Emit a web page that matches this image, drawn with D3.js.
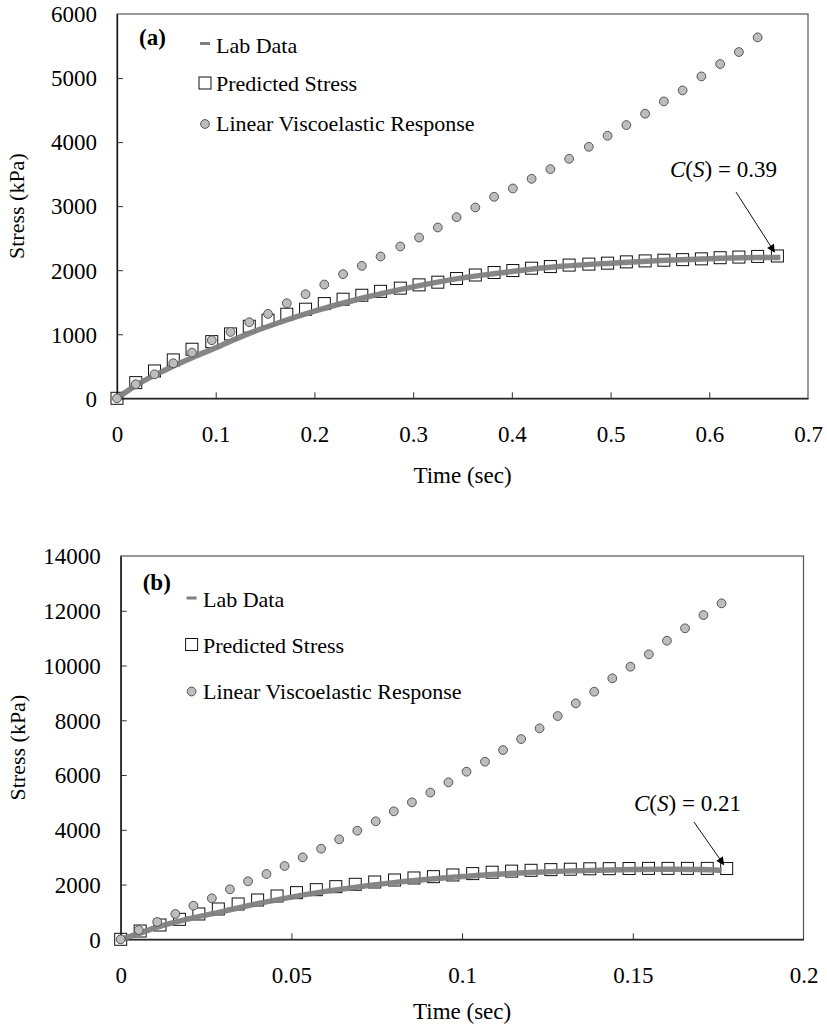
<!DOCTYPE html>
<html>
<head>
<meta charset="utf-8">
<script src="https://cdn.jsdelivr.net/npm/d3@7"></script>
<style>
  html, body { margin: 0; padding: 0; background: #fff; }
  svg text { font-family: "Liberation Serif", "Times New Roman", serif; fill: #000; }
</style>
</head>
<body>
<svg id="chart" width="827" height="1024"></svg>
<script>
// ---------- Panel (a) data ----------
const timePredA = [0, 0.019, 0.038, 0.057, 0.076, 0.096, 0.115, 0.134, 0.153, 0.172, 0.191, 0.21,
  0.229, 0.248, 0.267, 0.287, 0.306, 0.325, 0.344, 0.363, 0.382, 0.401, 0.42, 0.439, 0.458, 0.478,
  0.497, 0.516, 0.535, 0.554, 0.573, 0.592, 0.611, 0.63, 0.649, 0.669];
const predictedA = [0, 245, 427, 599, 766, 885, 1005, 1125, 1219, 1313, 1391, 1479, 1547, 1609, 1670,
  1720, 1771, 1813, 1870, 1925, 1964, 1995, 2031, 2057, 2080, 2095, 2110, 2130, 2145, 2156, 2165,
  2177, 2195, 2205, 2215, 2222];
const timeLinA = [0, 0.019, 0.038, 0.057, 0.076, 0.096, 0.115, 0.134, 0.153, 0.172, 0.191, 0.21,
  0.229, 0.248, 0.267, 0.287, 0.306, 0.325, 0.344, 0.363, 0.382, 0.401, 0.42, 0.439, 0.458, 0.478,
  0.497, 0.516, 0.535, 0.554, 0.573, 0.592, 0.611, 0.63, 0.649];
const linearA = [0, 219, 375, 547, 714, 906, 1036, 1188, 1318, 1484, 1625, 1776, 1938, 2068, 2214,
  2370, 2510, 2667, 2828, 2979, 3146, 3276, 3427, 3578, 3740, 3927, 4099, 4266, 4443, 4635, 4807,
  5026, 5219, 5406, 5635];
const timeLabA = [0, 0.02, 0.05, 0.08, 0.1, 0.13, 0.16, 0.2, 0.25, 0.3, 0.35, 0.4, 0.45, 0.5, 0.55, 0.6, 0.65, 0.672];
const labA = [0, 210, 450, 660, 790, 990, 1160, 1360, 1570, 1740, 1880, 1980, 2060, 2110, 2150, 2180, 2200, 2200];
const xTicksA = [0, 0.1, 0.2, 0.3, 0.4, 0.5, 0.6, 0.7];
const yTicksA = [0, 1000, 2000, 3000, 4000, 5000, 6000];

// ---------- Panel (b) data ----------
const timePredB = [0, 0.0057, 0.0115, 0.0172, 0.0229, 0.0286, 0.0344, 0.0401, 0.0458, 0.0515, 0.0573,
  0.063, 0.0687, 0.0744, 0.0802, 0.0859, 0.0916, 0.0973, 0.1031, 0.1088, 0.1145, 0.1202, 0.126,
  0.1317, 0.1374, 0.1431, 0.1489, 0.1546, 0.1603, 0.166, 0.1718, 0.1775];
const predictedB = [0, 303, 522, 730, 925, 1107, 1290, 1436, 1582, 1704, 1813, 1923, 2008, 2093, 2166,
  2240, 2288, 2350, 2400, 2450, 2490, 2520, 2545, 2560, 2575, 2580, 2585, 2590, 2590, 2590, 2590, 2585];
const timeLinB = [0, 0.0053, 0.0107, 0.016, 0.0213, 0.0267, 0.032, 0.0373, 0.0427, 0.048, 0.0533,
  0.0587, 0.064, 0.0693, 0.0747, 0.08, 0.0853, 0.0907, 0.096, 0.1013, 0.1067, 0.112, 0.1173, 0.1227,
  0.128, 0.1333, 0.1387, 0.144, 0.1493, 0.1547, 0.16, 0.1653, 0.1707, 0.176];
const linearB = [0, 340, 633, 925, 1228, 1497, 1826, 2118, 2385, 2677, 2994, 3309, 3652, 3966, 4309,
  4674, 5003, 5360, 5733, 6121, 6486, 6913, 7315, 7705, 8155, 8618, 9043, 9531, 9956, 10408, 10905,
  11358, 11843, 12270];
const timeLabB = [0, 0.005, 0.01, 0.02, 0.03, 0.04, 0.05, 0.06, 0.07, 0.08, 0.09, 0.1, 0.11, 0.12, 0.13, 0.14, 0.15, 0.16, 0.17, 0.176];
const labB = [0, 200, 420, 750, 1020, 1300, 1540, 1750, 1920, 2070, 2190, 2290, 2380, 2440, 2490, 2525, 2545, 2555, 2545, 2510];
const xTicksB = [0, 0.05, 0.1, 0.15, 0.2];
const yTicksB = [0, 2000, 4000, 6000, 8000, 10000, 12000, 14000];

const legendLabels = ["Lab Data", "Predicted Stress", "Linear Viscoelastic Response"];

const svg = d3.select("#chart");
svg.append("rect").attr("width", 827).attr("height", 1024).attr("fill", "#fff");

const defs = svg.append("defs");
defs.append("marker").attr("id", "arrowhead")
  .attr("viewBox", "0 0 10 10").attr("refX", 9).attr("refY", 5)
  .attr("markerWidth", 9).attr("markerHeight", 8).attr("markerUnits", "userSpaceOnUse")
  .attr("orient", "auto")
  .append("path").attr("d", "M0,0 L10,5 L0,10 Z").attr("fill", "#000");

function fmtX(d) { return String(+d.toFixed(3)); }

function drawPanel(cfg) {
  const g = svg.append("g");
  const x = d3.scaleLinear().domain(cfg.xDomain).range([cfg.left, cfg.right]);
  const y = d3.scaleLinear().domain(cfg.yDomain).range([cfg.bottom, cfg.top]);

  // frame
  g.append("rect").attr("x", cfg.left).attr("y", cfg.top)
    .attr("width", cfg.right - cfg.left).attr("height", cfg.bottom - cfg.top)
    .attr("fill", "none").attr("stroke", "#555").attr("stroke-width", 1.2);

  // axes
  const yAxis = d3.axisLeft(y).tickValues(cfg.yTicks).tickFormat(d3.format("d"))
    .tickSizeInner(-6).tickSizeOuter(0).tickPadding(20);
  const xAxis = d3.axisBottom(x).tickValues(cfg.xTicks).tickFormat(fmtX)
    .tickSizeInner(-6).tickSizeOuter(0).tickPadding(27);
  const ya = g.append("g").attr("transform", `translate(${cfg.left},0)`).call(yAxis);
  const xa = g.append("g").attr("transform", `translate(0,${cfg.bottom})`).call(xAxis);
  [ya, xa].forEach(a => {
    a.select(".domain").attr("stroke", "#111").attr("stroke-width", 1.3);
    a.selectAll(".tick line").attr("stroke", "#333");
    a.selectAll(".tick text").attr("font-size", 23).attr("fill", "#000");
  });
  ya.selectAll(".tick text").attr("dy", "0.34em");
  ya.selectAll(".tick line").filter(d => d === cfg.yDomain[0] || d === cfg.yDomain[1]).remove();
  xa.selectAll(".tick line").filter(d => d === cfg.xDomain[0] || d === cfg.xDomain[1]).remove();

  // axis titles
  g.append("text").attr("x", (cfg.left + cfg.right) / 2).attr("y", cfg.xTitleY)
    .attr("text-anchor", "middle").attr("font-size", 23).text("Time (sec)");
  g.append("text").attr("transform", `translate(${cfg.yTitleX},${(cfg.top + cfg.bottom) / 2}) rotate(-90)`)
    .attr("text-anchor", "middle").attr("font-size", 22).text("Stress (kPa)");

  // predicted stress squares
  const s = 12;
  g.append("g").selectAll("rect").data(cfg.timePred.map((t, i) => [t, cfg.pred[i]])).join("rect")
    .attr("x", d => x(d[0]) - s / 2).attr("y", d => y(d[1]) - s / 2)
    .attr("width", s).attr("height", s)
    .attr("fill", "none").attr("stroke", "#111").attr("stroke-width", 1);

  // lab data line
  const line = d3.line().x(d => x(d[0])).y(d => y(d[1])).curve(d3.curveMonotoneX);
  g.append("path").datum(cfg.timeLab.map((t, i) => [t, cfg.lab[i]]))
    .attr("d", line).attr("fill", "none").attr("stroke", "#7f7f7f")
    .attr("stroke-width", 5.5).attr("stroke-linecap", "butt").attr("opacity", 0.95);

  // linear viscoelastic circles
  g.append("g").selectAll("circle").data(cfg.timeLin.map((t, i) => [t, cfg.lin[i]])).join("circle")
    .attr("cx", d => x(d[0])).attr("cy", d => y(d[1])).attr("r", 4.4)
    .attr("fill", "#bdbdbd").attr("stroke", "#555").attr("stroke-width", 1);

  // panel label
  g.append("text").attr("x", cfg.left + 22).attr("y", cfg.labelY)
    .attr("font-size", 23).attr("font-weight", "bold").text(cfg.panel);

  // legend
  const L = cfg.legend;
  g.append("line").attr("x1", L.mx - 5).attr("x2", L.mx + 5).attr("y1", L.y0 - 9).attr("y2", L.y0 - 9)
    .attr("stroke", "#7f7f7f").attr("stroke-width", 3);
  g.append("rect").attr("x", L.mx - 6).attr("y", L.y1 - 14).attr("width", 12).attr("height", 12)
    .attr("fill", "none").attr("stroke", "#111").attr("stroke-width", 1);
  g.append("circle").attr("cx", L.mx).attr("cy", L.y2 - 7).attr("r", 4.4)
    .attr("fill", "#bdbdbd").attr("stroke", "#555").attr("stroke-width", 1);
  [L.y0, L.y1, L.y2].forEach((yy, i) => {
    g.append("text").attr("x", L.tx).attr("y", yy).attr("font-size", 22).text(legendLabels[i]);
  });

  // annotation
  const last = cfg.timePred.length - 1;
  const tipX = x(cfg.timePred[last]) - 3, tipY = y(cfg.pred[last]) - 4;
  g.append("line").attr("x1", cfg.ann.ax).attr("y1", cfg.ann.ay).attr("x2", tipX).attr("y2", tipY)
    .attr("stroke", "#111").attr("stroke-width", 1).attr("marker-end", "url(#arrowhead)");
  const t = g.append("text").attr("x", cfg.ann.tx).attr("y", cfg.ann.ty).attr("font-size", 23);
  t.append("tspan").attr("font-style", "italic").text("C");
  t.append("tspan").text("(");
  t.append("tspan").attr("font-style", "italic").text("S");
  t.append("tspan").text(") = " + cfg.ann.value);
}

drawPanel({
  panel: "(a)",
  xDomain: [0, 0.7], yDomain: [0, 6000],
  left: 117, right: 808, top: 14, bottom: 398.3,
  xTicks: xTicksA, yTicks: yTicksA,
  xTitleY: 483, yTitleX: 24, labelY: 45,
  timePred: timePredA, pred: predictedA,
  timeLin: timeLinA, lin: linearA,
  timeLab: timeLabA, lab: labA,
  legend: { mx: 205, tx: 216, y0: 52.5, y1: 91, y2: 131 },
  ann: { tx: 670, ty: 177, ax: 736, ay: 192, value: "0.39" }
});

drawPanel({
  panel: "(b)",
  xDomain: [0, 0.2], yDomain: [0, 14000],
  left: 120.7, right: 803.5, top: 556, bottom: 939.3,
  xTicks: xTicksB, yTicks: yTicksB,
  xTitleY: 1019, yTitleX: 25, labelY: 590,
  timePred: timePredB, pred: predictedB,
  timeLin: timeLinB, lin: linearB,
  timeLab: timeLabB, lab: labB,
  legend: { mx: 191.6, tx: 203, y0: 607, y1: 652.5, y2: 698.5 },
  ann: { tx: 634, ty: 811, ax: 694, ay: 822, value: "0.21" }
});
</script>
</body>
</html>
